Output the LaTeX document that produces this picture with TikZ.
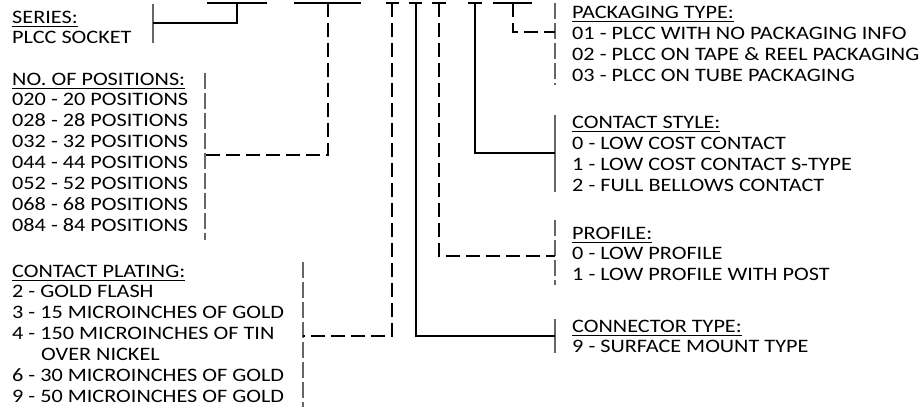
\documentclass[tikz,border=0pt]{standalone}
\usepackage{fontspec}
\setmainfont{Carlito}[FakeStretch=1.17]
\usetikzlibrary{positioning}

% underlined group heading and a top-aligned list of lines
\newcommand{\hdr}[1]{\setbox0\hbox{#1}\rlap{\rule[-3.5pt]{\wd0}{0.9pt}}\box0}
\newcommand{\grp}[1]{\begin{tabular}[t]{@{}l@{}}#1\end{tabular}}

\begin{document}
\begin{tikzpicture}[x=1pt,y=-1pt,
    txt/.style={anchor=base west,inner sep=0pt,font=\fontsize{19}{20.9}\selectfont},
    blank/.style={line width=1.2pt},
    lead/.style={line width=1.1pt},
    dlead/.style={lead,dash pattern=on 14pt off 6pt},
    bar/.style={line width=1.3pt,draw=black!60},
    dbar/.style={bar,dash pattern=on 16pt off 4pt}]
  \useasboundingbox (0,0) rectangle (923,410);

  % part number blanks
  \foreach \a/\b in {207/267,294/361,386/399,409/422,432/446,468/482,493/532}
    \draw[blank] (\a,3) -- (\b,3);
  \coordinate (b1) at (237,3);
  \coordinate (b2) at (328,3);
  \coordinate (b3) at (392,3);
  \coordinate (b4) at (416,3);
  \coordinate (b5) at (439,3);
  \coordinate (b6) at (475,3);
  \coordinate (b7) at (513,3);

  % left column
  \node[txt] (series) at (12,23) {\grp{\hdr{SERIES:}\\PLCC SOCKET}};
  \node[txt] (positions) at (12,85) {\grp{\hdr{NO. OF POSITIONS:}\\020 - 20 POSITIONS\\028 - 28 POSITIONS\\
    032 - 32 POSITIONS\\044 - 44 POSITIONS\\052 - 52 POSITIONS\\068 - 68 POSITIONS\\084 - 84 POSITIONS}};
  \node[txt] (plating) at (12,277) {\grp{\hdr{CONTACT PLATING:}\\2 - GOLD FLASH\\3 - 15 MICROINCHES OF GOLD\\
    4 - 150 MICROINCHES OF TIN\\\hspace*{29pt}OVER NICKEL\\6 - 30 MICROINCHES OF GOLD\\9 - 50 MICROINCHES OF GOLD}};

  % right column
  \node[txt] (packaging) at (572,18.3) {\grp{\hdr{PACKAGING TYPE:}\\01 - PLCC WITH NO PACKAGING INFO\\
    02 - PLCC ON TAPE \& REEL PACKAGING\\03 - PLCC ON TUBE PACKAGING}};
  \node[txt] (cstyle) at (572,128.3) {\grp{\hdr{CONTACT STYLE:}\\0 - LOW COST CONTACT\\1 - LOW COST CONTACT S-TYPE\\
    2 - FULL BELLOWS CONTACT}};
  \node[txt] (profile) at (572,239) {\grp{\hdr{PROFILE:}\\0 - LOW PROFILE\\1 - LOW PROFILE WITH POST}};
  \node[txt] (ctype) at (572,332) {\grp{\hdr{CONNECTOR TYPE:}\\9 - SURFACE MOUNT TYPE}};

  % brackets
  \draw[bar] (153,4) -- (153,43);
  \draw[dbar] (205,73) -- (205,240);
  \draw[dbar] (303,262) -- (303,407);
  \draw[dbar] (555,3) -- (555,85);
  \draw[bar] (555,115) -- (555,192);
  \draw[dbar] (555,220) -- (555,285);
  \draw[bar] (555,319) -- (555,353);
  \coordinate (seriesjoin) at (153,23);
  \coordinate (posjoin) at (205,155);
  \coordinate (platejoin) at (303,336);
  \coordinate (packjoin) at (555,32);
  \coordinate (cstylejoin) at (555,153);
  \coordinate (profjoin) at (555,256);
  \coordinate (ctypejoin) at (555,336);

  % leads
  \draw[lead] (b1) |- (seriesjoin);
  \draw[dlead] (b2) |- (posjoin);
  \draw[dlead] (b3) |- (platejoin);
  \draw[lead] (b4) |- (ctypejoin);
  \draw[dlead] (b5) |- (profjoin);
  \draw[lead] (b6) |- (cstylejoin);
  \draw[dlead] (b7) |- (packjoin);
\end{tikzpicture}
\end{document}
